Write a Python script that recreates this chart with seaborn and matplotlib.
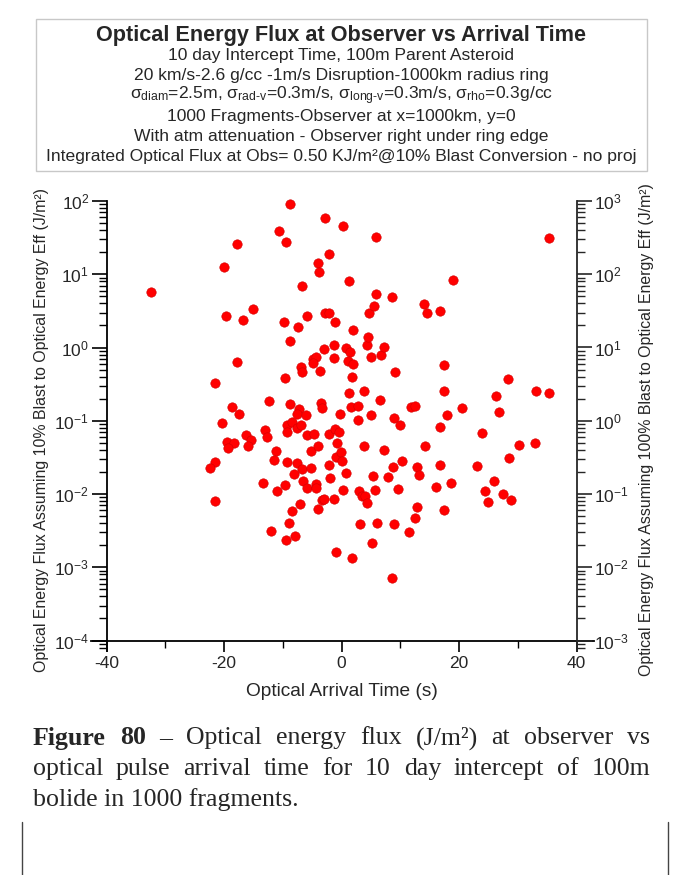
import numpy as np
import pandas as pd
import matplotlib
matplotlib.use("Agg")
import matplotlib.pyplot as plt
import matplotlib.ticker as mticker
from matplotlib.patches import Rectangle
from matplotlib.lines import Line2D
import seaborn as sns

# ------------------------------------------------------------
# Data (time in s, flux in J/m^2)
# ------------------------------------------------------------
arrival_time = [
    -32.43, -21.53, -20.00, -19.66, -17.79, -17.79, -16.77, -15.06, -10.64, -9.79,
    -9.62, -9.45, -8.77, -8.77, -7.40, -6.89, -6.72, -6.72, -5.87, -4.85,
    -4.34, -4.85, -4.00, -3.83, -3.66, -2.98, -2.81, -2.81, -2.13, -2.13,
    -1.11, -1.28, -1.28, 0.26, 0.77, 1.45, 1.11, 1.96, 1.28, 1.96,
    1.79, 4.34, 4.51, 4.68, 5.02, 5.53, 5.87, 5.87, 6.72, 7.23,
    8.60, 9.11, 14.04, 14.55, 16.77, 17.45, 18.98, 28.34, 35.32,
    -12.34, -18.64, -17.45, -8.77, -7.23, -7.57, -6.04, -3.49, -3.32, -0.26,
    1.28, 3.83, 6.55, 1.62, 2.81, 2.81, 5.02, 8.94, 9.96, 11.83,
    12.51, 17.45, 20.51, 17.96, 26.30, 26.81, 33.11, 35.32,
    -20.34, -13.02, -12.68, -16.26, -15.40, -19.49, -18.30, -19.32, -15.91, -21.53,
    -22.38, -13.36, -21.53, -12.00, -9.28, -8.43, -9.28, -7.57, -6.89, -5.87,
    -4.68, -11.15, -11.49, -9.28, -7.57, -8.09, -6.72, -5.19, -4.00, -2.13,
    -1.11, -0.43, -0.77, -0.94, -0.09, 0.09, -2.13, -1.96, -5.19, -6.55,
    -5.87, -4.34, -4.34, 0.77, 0.26, -10.98, -9.62, -3.32, -2.98, -1.28,
    -4.00, -7.06, -8.43, -8.94, -9.45, -7.91, -0.94, 1.79, 3.83, 7.23,
    10.30, 8.77, 5.36, 7.91, 5.70, 9.62, 2.98, 3.49, 4.00, 4.34,
    3.15, 6.04, 8.94, 11.49, 5.19, 8.60, 16.77, 23.91, 14.21, 30.21,
    32.94, 28.51, 23.06, 16.77, 12.85, 13.19, 16.09, 18.64, 25.96, 24.43,
    27.49, 24.94, 28.85, 12.85, 12.51, 17.45,
]
flux = [
    5.73, 0.327, 12.6, 2.69, 25.9, 0.634, 2.37, 3.36, 38.9, 2.23,
    0.384, 27.6, 91.0, 1.23, 1.91, 0.542, 0.463, 6.92, 2.69, 0.697,
    0.741, 0.613, 14.3, 10.7, 0.478, 0.955, 58.6, 2.96, 2.96, 18.9,
    2.23, 1.08, 0.720, 45.6, 0.984, 0.869, 0.655, 0.596, 8.09, 1.73,
    0.395, 1.08, 1.39, 2.96, 0.741, 3.69, 32.3, 5.37, 0.791, 1.02,
    4.89, 0.463, 3.93, 2.96, 3.15, 0.577, 8.34, 0.372, 31.3,
    0.186, 0.154, 0.124, 0.169, 0.145, 0.124, 0.120, 0.175, 0.149, 0.124,
    0.239, 0.255, 0.192, 0.154, 0.159, 0.102, 0.120, 0.109, 0.0875, 0.154,
    0.159, 0.255, 0.149, 0.120, 0.218, 0.132, 0.255, 0.239,
    0.0931, 0.0748, 0.0600, 0.0638, 0.0546, 0.0513, 0.0497, 0.0425, 0.0452, 0.0274,
    0.0227, 0.0141, 0.00802, 0.00313, 0.0875, 0.0962, 0.0702, 0.0796, 0.0875, 0.0638,
    0.0659, 0.0386, 0.0291, 0.0274, 0.0265, 0.0188, 0.0219, 0.0386, 0.0452, 0.0659,
    0.0771, 0.0702, 0.0497, 0.0320, 0.0374, 0.0282, 0.0249, 0.0165, 0.0227, 0.0150,
    0.0121, 0.0137, 0.0121, 0.0194, 0.0113, 0.0110, 0.0133, 0.00828, 0.00855, 0.00855,
    0.00624, 0.00730, 0.00586, 0.00402, 0.00236, 0.00267, 0.00161, 0.00134, 0.0452, 0.0399,
    0.0282, 0.0234, 0.0176, 0.0171, 0.0113, 0.0117, 0.0110, 0.00940, 0.00940, 0.00753,
    0.00389, 0.00402, 0.00389, 0.00303, 0.00214, 0.000713, 0.0822, 0.0680, 0.0452, 0.0466,
    0.0497, 0.0310, 0.0241, 0.0249, 0.0234, 0.0182, 0.0125, 0.0141, 0.0150, 0.0110,
    0.0100, 0.00778, 0.00828, 0.00664, 0.00470, 0.00605,
]

title = "Optical Energy Flux at Observer vs Arrival Time"
subtitle_lines = [
    "10 day Intercept Time, 100m Parent Asteroid",
    "20 km/s-2.6 g/cc -1m/s Disruption-1000km radius ring",
    r"σ$_{\rm diam}$=2.5m, σ$_{\rm rad\text{-}v}$=0.3m/s, σ$_{\rm long\text{-}v}$=0.3m/s, σ$_{\rm rho}$=0.3g/cc",
    "1000 Fragments-Observer at x=1000km, y=0",
    "With atm attenuation - Observer right under ring edge",
    "Integrated Optical Flux at Obs= 0.50 KJ/m²@10% Blast Conversion - no proj",
]
xlabel = "Optical Arrival Time (s)"
ylabel_left = "Optical Energy Flux Assuming 10% Blast to Optical Energy Eff (J/m²)"
ylabel_right = "Optical Energy Flux Assuming 100% Blast to Optical Energy Eff (J/m²)"
caption_lines = [
    ["Figure", "80", "–", "Optical", "energy", "flux", "(J/m²)", "at", "observer", "vs"],
    ["optical", "pulse", "arrival", "time", "for", "10", "day", "intercept", "of", "100m"],
]
caption_last = "bolide in 1000 fragments."

df = pd.DataFrame({"t": arrival_time, "flux": flux})

# ------------------------------------------------------------
# Style
# ------------------------------------------------------------
sns.set_style("ticks")
plt.rcParams["font.family"] = ["Liberation Sans", "DejaVu Sans"]
plt.rcParams["mathtext.fontset"] = "custom"
plt.rcParams["mathtext.rm"] = "Liberation Sans"
plt.rcParams["mathtext.it"] = "Liberation Sans:italic"
plt.rcParams["mathtext.bf"] = "Liberation Sans:bold"
plt.rcParams["axes.unicode_minus"] = False

W, H = 678, 875
fig = plt.figure(figsize=(W / 100, H / 100), dpi=100)

def fx(px):
    return px / W

def fy(py):
    return 1 - py / H

# axes: x spine at -40..40 -> px 106..577, y 1e2..1e-4 -> px 201..640
x_lo, x_hi = -42.6, 43.0
px_per_s = 5.875
px_per_dec = 73.25
y_lo_dec = -4 - 10 / px_per_dec
ax_left = 341.5 + x_lo * px_per_s
ax_w = (x_hi - x_lo) * px_per_s
ax_top = 201
ax_h = (2 - y_lo_dec) * px_per_dec
ax = fig.add_axes([fx(ax_left), fy(ax_top + ax_h), ax_w / W, ax_h / H])

sns.scatterplot(data=df, x="t", y="flux", ax=ax, color="#ff0000", s=46,
                edgecolor="#d00000", linewidth=0.4, legend=False, zorder=3,
                clip_on=False)

ax.set_yscale("log")
ax.set_xlim(x_lo, x_hi)
ax.set_ylim(10 ** y_lo_dec, 1e2)
ax.set_xlabel("")
ax.set_ylabel("")

ax.spines["top"].set_visible(False)
ax.spines["right"].set_visible(False)
ax.spines["left"].set_position(("data", -40))
ax.spines["bottom"].set_position(("data", 1e-4))
for sp in ["left", "bottom"]:
    ax.spines[sp].set_linewidth(1.3)
    ax.spines[sp].set_color("black")

ax.xaxis.set_major_locator(mticker.FixedLocator([-40, -20, 0, 20, 40]))
ax.xaxis.set_minor_locator(mticker.FixedLocator([-30, -10, 10, 30]))
ax.yaxis.set_major_locator(mticker.LogLocator(base=10, numticks=20))
ax.yaxis.set_minor_locator(mticker.LogLocator(base=10, subs=np.arange(2, 10), numticks=20))
ax.yaxis.set_minor_formatter(mticker.NullFormatter())
ax.tick_params(axis="both", which="major", direction="out", length=10.5, width=1.2,
               labelsize=12.5, color="black", pad=2)
ax.tick_params(axis="both", which="minor", direction="out", length=6, width=1.0,
               color="black")
ax.tick_params(axis="x", which="major", length=8, pad=3)
ax.tick_params(axis="x", which="minor", length=5)

# right axis: 100% efficiency, a factor 10 above
ax2 = ax.twinx()
ax2.set_yscale("log")
ax2.set_ylim(10 ** (y_lo_dec + 1), 1e3)
for sp in ["top", "left", "bottom"]:
    ax2.spines[sp].set_visible(False)
ax2.spines["right"].set_position(("data", 40))
ax2.spines["right"].set_linewidth(1.3)
ax2.yaxis.set_major_locator(mticker.LogLocator(base=10, numticks=20))
ax2.yaxis.set_minor_locator(mticker.LogLocator(base=10, subs=np.arange(2, 10), numticks=20))
ax2.yaxis.set_minor_formatter(mticker.NullFormatter())
ax2.tick_params(axis="y", which="major", direction="out", length=10.5, width=1.2,
                labelsize=12.5, pad=2)
ax2.tick_params(axis="y", which="minor", direction="out", length=6, width=1.0)

# axis labels
fig.text(fx(341.5), fy(691), xlabel, ha="center", va="center", fontsize=13.8)
fig.text(fx(42), fy(430), ylabel_left, rotation=90, ha="center", va="center", fontsize=11.4)
fig.text(fx(647), fy(430), ylabel_right, rotation=90, ha="center", va="center", fontsize=11.4)

# title box
fig.patches.append(Rectangle((fx(36), fy(171)), (647 - 36) / W, (171 - 19) / H,
                             transform=fig.transFigure, fill=False,
                             edgecolor="#c8c8c8", linewidth=1.0))
fig.text(fx(341.5), fy(35), title, ha="center", va="center", fontsize=15.6,
         fontweight="bold")
for i, line in enumerate(subtitle_lines):
    fig.text(fx(341.5), fy(55.5 + i * 20.3), line, ha="center", va="center", fontsize=12.6)

# caption, justified like the page text
serif = ["Liberation Serif", "DejaVu Serif"]
cap_fs = 18.6
renderer = fig.canvas.get_renderer()
cap_left, cap_right = 33, 650
for li, words in enumerate(caption_lines):
    y = fy(738 + li * 31)
    texts = []
    for wi, w in enumerate(words):
        bold = li == 0 and wi < 2
        t = fig.text(0, y, w, ha="left", va="center", fontsize=cap_fs, family=serif,
                     fontweight="bold" if bold else "normal")
        texts.append(t)
    widths = [t.get_window_extent(renderer).width for t in texts]
    gap = (cap_right - cap_left - sum(widths)) / (len(texts) - 1)
    xpos = cap_left
    for t, w in zip(texts, widths):
        t.set_x(fx(xpos))
        xpos += w + gap
fig.text(fx(cap_left), fy(738 + 2 * 31), caption_last, ha="left", va="center",
         fontsize=cap_fs, family=serif)

# page cell border at the bottom
for xb in [22, 668]:
    fig.add_artist(Line2D([fx(xb), fx(xb)], [fy(822), fy(875)], transform=fig.transFigure,
                          color="#444444", linewidth=1.0))

fig.savefig("out.png", dpi=100)
print("saved out.png")
